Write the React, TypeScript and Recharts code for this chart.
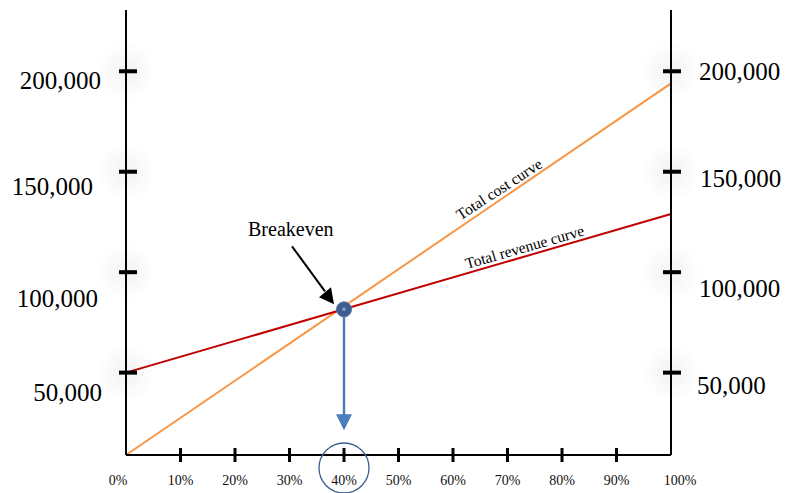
import React from 'react'
import { ComposedChart, Line, Scatter, XAxis, YAxis, ReferenceDot } from 'recharts'

const FONT = '"Liberation Serif", "Times New Roman", serif'

// output level (%) and the two straight curves
const pct = [0, 100]
const totalCost = [9000, 194000]
const totalRevenue = [50000, 129000]
const breakevenPoint = [{ pct: 40, value: 81500 }]

const xTicks = [0, 10, 20, 30, 40, 50, 60, 70, 80, 90, 100]
const yTicks = [50000, 100000, 150000, 200000]
const yDomain = [9000, 230500]
const highlightTick = 40

const rows = pct.map((p, i) => ({ pct: p, cost: totalCost[i], revenue: totalRevenue[i] }))

// straight-line lookup used only to anchor the text labels on the curves
const along = (vals: number[], p: number) => vals[0] + ((vals[1] - vals[0]) * (p - pct[0])) / (pct[1] - pct[0])

const costLabelAt = 69
const revenueLabelAt = 73.4

// label nudges (hand-placed in the original)
const leftDx = [-24, -28, -33, -25]
const leftDy = [28, 35, 23, 18]
const rightDx = [26, 28, 29, 28]
const rightDy = [21, 25, 15, 9]

const fmt = (v: number) => v.toLocaleString('en-US')

const Glow = ({ x, y }: { x: number; y: number }) => (
  <ellipse cx={x} cy={y} rx={30} ry={30} fill="url(#tickGlow)" />
)

const LeftTick = (props: any) => {
  const { x, y, payload } = props
  const i = yTicks.indexOf(payload.value)
  return (
    <g>
      <Glow x={x} y={y} />
      <line x1={x - 7} x2={x + 11} y1={y} y2={y} stroke="#000" strokeWidth={4} />
      <text x={x + leftDx[i]} y={y + leftDy[i]} textAnchor="end" fontSize={25} fontFamily={FONT} fill="#000">
        {fmt(payload.value)}
      </text>
    </g>
  )
}

const RightTick = (props: any) => {
  const { x, y, payload } = props
  const i = yTicks.indexOf(payload.value)
  return (
    <g>
      <Glow x={x} y={y} />
      <line x1={x - 8} x2={x + 10} y1={y} y2={y} stroke="#000" strokeWidth={4} />
      <text x={x + rightDx[i]} y={y + rightDy[i]} textAnchor="start" fontSize={25} fontFamily={FONT} fill="#000">
        {fmt(payload.value)}
      </text>
    </g>
  )
}

const BottomTick = (props: any) => {
  const { x, y, payload } = props
  const v = payload.value
  const edge = v === xTicks[0] || v === xTicks[xTicks.length - 1]
  const dx = v === xTicks[0] ? -8 : v === xTicks[xTicks.length - 1] ? 9 : 0
  return (
    <g>
      {!edge && <line x1={x} x2={x} y1={y - 7} y2={y + 7} stroke="#000" strokeWidth={3} />}
      <text x={x + dx} y={y + 30} textAnchor="middle" fontSize={14} fontFamily={FONT} fill="#111">
        {v}%
      </text>
      {v === highlightTick && <circle cx={x} cy={y + 13} r={25} fill="none" stroke="#3d5f90" strokeWidth={1.3} />}
    </g>
  )
}

const BreakevenShape = (props: any) => {
  const { cx, cy } = props
  return (
    <g>
      {/* drop line to the axis */}
      <line x1={cx} x2={cx} y1={cy} y2={cy + 106} stroke="#4a7dbd" strokeWidth={2.5} />
      <polygon points={`${cx - 8},${cy + 105} ${cx + 8},${cy + 105} ${cx},${cy + 121}`} fill="#4a7dbd" />
      {/* callout arrow */}
      <line x1={cx - 52} y1={cy - 63} x2={cx - 19} y2={cy - 18} stroke="#000" strokeWidth={2} />
      <polygon points={`${cx - 10},${cy - 5} ${cx - 25},${cy - 12} ${cx - 13},${cy - 22}`} fill="#000" />
      <text x={cx - 96} y={cy - 73} fontSize={20} fontFamily={FONT} fill="#000">
        Breakeven
      </text>
      <circle cx={cx} cy={cy} r={7.5} fill="#3b5d8f" stroke="#4f72a6" strokeWidth={1} />
      <circle cx={cx} cy={cy} r={2} fill="#7399cc" />
    </g>
  )
}

const CurveLabel = (text: string, angle: number, lift: number) => (props: any) => {
  const { cx, cy } = props
  return (
    <text
      x={cx}
      y={cy - lift}
      textAnchor="middle"
      fontSize={15.5}
      fontFamily={FONT}
      fill="#000"
      transform={`rotate(${angle} ${cx} ${cy - lift})`}
    >
      {text}
    </text>
  )
}

export default function App() {
  return (
    <div style={{ position: 'absolute', left: 0, top: 0, background: '#fff' }}>
      <ComposedChart
        width={787}
        height={493}
        data={rows}
        margin={{ top: 10, right: 0, bottom: 0, left: 0 }}
        style={{ fontFamily: FONT }}
      >
        <defs>
          <radialGradient id="tickGlow">
            <stop offset="0%" stopColor="#000" stopOpacity={0.05} />
            <stop offset="100%" stopColor="#000" stopOpacity={0} />
          </radialGradient>
        </defs>
        <XAxis
          type="number"
          dataKey="pct"
          domain={[0, 100]}
          ticks={xTicks}
          interval={0}
          height={38}
          axisLine={{ stroke: '#000', strokeWidth: 2 }}
          tickLine={false}
          tickSize={0}
          tickMargin={0}
          tick={BottomTick}
        />
        <YAxis
          yAxisId="left"
          type="number"
          domain={yDomain}
          ticks={yTicks}
          interval={0}
          width={126}
          axisLine={{ stroke: '#000', strokeWidth: 2 }}
          tickLine={false}
          tickSize={0}
          tickMargin={0}
          tick={LeftTick}
        />
        <YAxis
          yAxisId="right"
          orientation="right"
          type="number"
          domain={yDomain}
          ticks={yTicks}
          interval={0}
          width={116}
          axisLine={{ stroke: '#000', strokeWidth: 2 }}
          tickLine={false}
          tickSize={0}
          tickMargin={0}
          tick={RightTick}
        />
        <Line yAxisId="left" type="linear" dataKey="cost" stroke="#f79646" strokeWidth={2} dot={false} isAnimationActive={false} />
        <Line yAxisId="right" type="linear" dataKey="revenue" stroke="#c00000" strokeWidth={2} dot={false} isAnimationActive={false} />
        <ReferenceDot
          yAxisId="left"
          x={costLabelAt}
          y={along(totalCost, costLabelAt)}
          shape={CurveLabel('Total cost curve', -33, 5)}
        />
        <ReferenceDot
          yAxisId="right"
          x={revenueLabelAt}
          y={along(totalRevenue, revenueLabelAt)}
          shape={CurveLabel('Total revenue curve', -16, 4)}
        />
        <Scatter yAxisId="left" data={breakevenPoint} dataKey="value" shape={BreakevenShape} isAnimationActive={false} />
      </ComposedChart>
    </div>
  )
}
